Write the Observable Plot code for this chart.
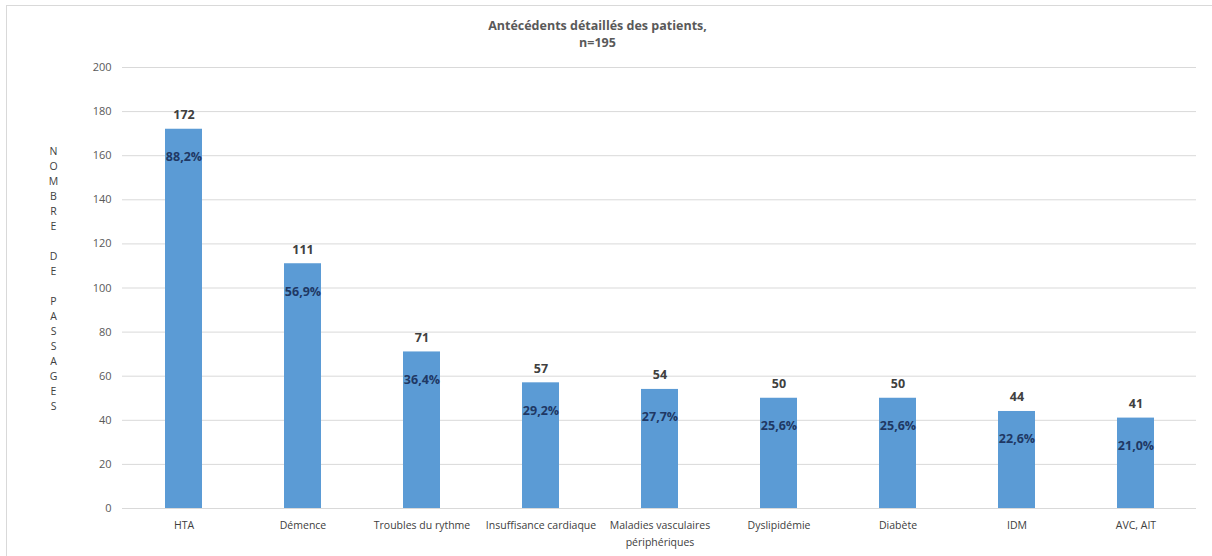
<!DOCTYPE html>
<html><head><meta charset="utf-8">
<script src="https://cdn.jsdelivr.net/npm/d3@7"></script>
<script src="https://cdn.jsdelivr.net/npm/@observablehq/plot@0.6"></script>
<style>
body{margin:0;background:#fff;}
#wrap{position:relative;width:1212px;height:556px;}
#bt{position:absolute;left:6px;top:5px;width:1206px;height:1px;background:#d9d9d9;}
#bl{position:absolute;left:6px;top:5px;width:1px;height:551px;background:#d9d9d9;}
</style></head>
<body><div id="wrap"><div id="bt"></div><div id="bl"></div></div>
<script>
const categories = ["HTA","Démence","Troubles du rythme","Insuffisance cardiaque","Maladies vasculaires\npériphériques","Dyslipidémie","Diabète","IDM","AVC, AIT"];
const counts = [172,111,71,57,54,50,50,44,41];
const percents = ["88,2%","56,9%","36,4%","29,2%","27,7%","25,6%","25,6%","22,6%","21,0%"];
const yTicks = [0,20,40,60,80,100,120,140,160,180,200];
const titleLines = "Antécédents détaillés des patients,\nn=195";
const yLabel = "N\nO\nM\nB\nR\nE\n\nD\nE\n\nP\nA\nS\nS\nA\nG\nE\nS";

const data = categories.map((c,i)=>({cat:c, n:counts[i], pct:percents[i]}));
const font = "Open Sans, sans-serif";

const chart = Plot.plot({
  width: 1212, height: 556,
  marginLeft: 122, marginRight: 16, marginTop: 67, marginBottom: 48,
  style: {fontFamily: font, fontSize: "10px", background: "transparent", overflow: "visible"},
  x: {domain: categories, paddingInner: 0.69, paddingOuter: 0.345, label: null, tickSize: 0},
  y: {domain: [0,200], label: null, ticks: yTicks, tickSize: 0},
  marks: [
    Plot.gridY(yTicks, {stroke: "#d9d9d9", strokeOpacity: 1, strokeWidth: 1}),
    Plot.axisY({ticks: yTicks, tickSize: 0, tickPadding: 11, label: null, fill: "#595959", fontSize: 11}),
    Plot.axisX({tickSize: 0, tickPadding: 9, label: null, fill: "#404040", fontSize: 10.5, lineHeight: 1.6, textAnchor: "middle"}),
    Plot.barY(data, {x: "cat", y: "n", fill: "#5b9bd5"}),
    Plot.text(data, {x: "cat", y: "n", text: d => String(d.n), dy: -14, fill: "#404040", fontWeight: "bold", fontSize: 12.5}),
    Plot.text(data, {x: "cat", y: "n", text: "pct", dy: 28, fill: "#1f3864", fontWeight: "bold", fontSize: 12.5}),
    Plot.text([titleLines], {frameAnchor: "top", dx: -62, dy: -50, text: d => d, fill: "#595959", fontWeight: "bold", fontSize: 12.5, lineHeight: 1.4, lineAnchor: "top"}),
    Plot.text([yLabel], {frameAnchor: "left", dx: -69, dy: -10, text: d => d, fill: "#404040", fontSize: 10.5, lineHeight: 1.43, textAnchor: "middle"})
  ]
});
document.getElementById("wrap").appendChild(chart);
chart.style.position = "absolute"; chart.style.left = "0"; chart.style.top = "0";
</script></body></html>
